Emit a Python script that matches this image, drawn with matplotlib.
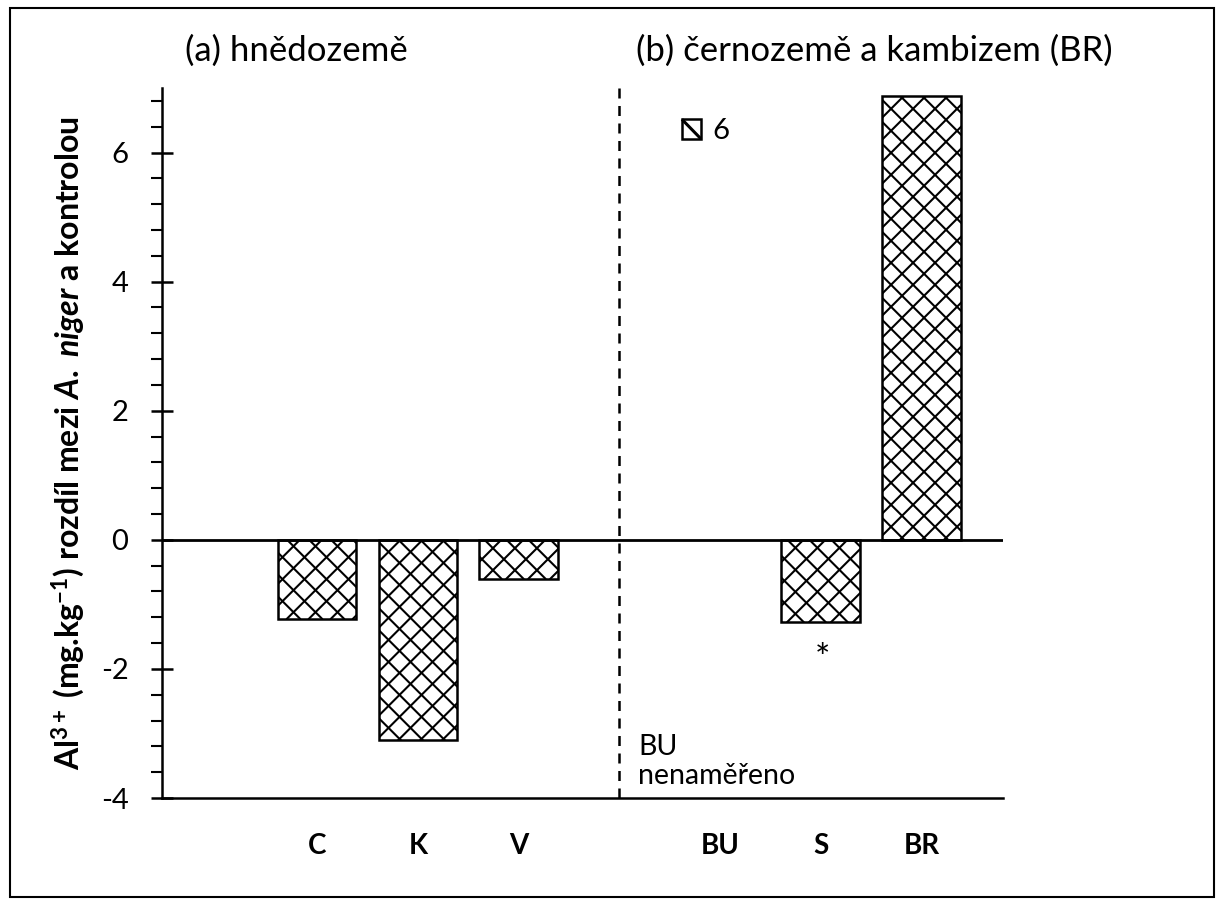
import matplotlib
matplotlib.use("Agg")
import numpy as np
import matplotlib.pyplot as plt
from matplotlib.patches import Patch, Rectangle
from matplotlib.lines import Line2D
from matplotlib.transforms import IdentityTransform, Bbox
from matplotlib.legend_handler import HandlerBase

plt.rcParams['font.family'] = ['Lato', 'DejaVu Sans']
plt.rcParams['mathtext.fontset'] = 'custom'
plt.rcParams['mathtext.rm'] = 'Lato:bold'
plt.rcParams['mathtext.bf'] = 'Lato:bold'
plt.rcParams['mathtext.it'] = 'Lato:bold:italic'

# data
categories = ['C', 'K', 'V', 'BU', 'S', 'BR']
positions = [0, 1, 2, 4, 5, 6]
values = [-1.22, -3.1, -0.6, None, -1.27, 6.88]
divider_x = 3.0
legend_label = '6'


def diamond_hatch(ax, patch, step=22, lw=1.5):
    # 45 degree cross hatch drawn in pixel space, clipped to the bar
    x0, y0, x1, y1 = patch.get_window_extent().extents
    h = y1 - y0
    clip = Bbox.from_extents(x0, y0, x1, y1)
    for c in np.arange(x0 - h - step, x1 + step, step):
        for xs in ([c, c + h], [c + h, c]):
            ln = Line2D(xs, [y0, y1], transform=IdentityTransform(), color='black', lw=lw, zorder=2.5)
            ax.add_artist(ln)
            ln.set_clip_path(None)
            ln.set_clip_box(clip)


class BoxHandler(HandlerBase):
    def create_artists(self, legend, orig_handle, xdescent, ydescent, width, height, fontsize, trans):
        r = Rectangle((-xdescent, -ydescent), width, height, facecolor='white',
                      edgecolor='black', lw=1.8, transform=trans)
        d = Line2D([-xdescent, -xdescent + width], [-ydescent + height, -ydescent],
                   color='black', lw=2.2, solid_capstyle='butt', transform=trans)
        return [r, d]


fig = plt.figure(figsize=(12.24, 9.05), dpi=100)
ax = fig.add_axes([0.1324, 0.1182, 0.687, 0.7846])

bars = []
for p, v in zip(positions, values):
    if v is None:
        continue
    b = ax.bar(p, v, width=0.78, color='white', edgecolor='black', linewidth=1.8, zorder=2)
    bars.append(b[0])

ax.axhline(0, color='black', lw=2, zorder=3)
ax.axvline(divider_x, color='black', lw=1.8, ls=(0, (4, 3)))

ax.set_xlim(-1.54, 6.81)
ax.set_ylim(-4, 7)
ax.set_yticks([-4, -2, 0, 2, 4, 6])
ax.set_yticklabels(['-4', '-2', '0', '2', '4', '6'])
ax.set_yticks([y / 10 for y in range(-36, 70, 4) if y % 20 != 0], minor=True)
ax.tick_params(axis='y', which='major', direction='inout', length=16.5, width=1.8, labelsize=21, pad=16)
ax.tick_params(axis='y', which='minor', direction='out', length=8, width=1.5)
ax.set_xticks(positions)
ax.set_xticklabels(categories, fontweight='bold', fontsize=20)
ax.tick_params(axis='x', length=0, pad=25)

for s in ['top', 'right']:
    ax.spines[s].set_visible(False)
ax.spines['left'].set_linewidth(1.8)
ax.spines['bottom'].set_linewidth(1.8)

ax.set_ylabel(r'Al$^{3+}$ (mg.kg$^{-1}$) rozdíl mezi $\mathit{A.\ niger}$ a kontrolou',
              fontsize=23, fontweight='bold', labelpad=10)

fig.text(0.151, 0.944, '(a) hnědozemě', fontsize=25, va='center')
fig.text(0.52, 0.944, '(b) černozemě a kambizem (BR)', fontsize=25, va='center')

ax.text(divider_x + 0.19, -3.43, 'BU\nnenaměřeno', fontsize=20.5, va='center', linespacing=1.15)
ax.text(5.02, -1.86, '*', fontsize=26, ha='center', va='center')

h = Patch(facecolor='white', edgecolor='black')
ax.legend([h], [legend_label], loc='center left', bbox_to_anchor=(0.587, 0.939),
          frameon=False, fontsize=21, handlelength=0.65, handleheight=0.65, handletextpad=0.4,
          handler_map={Patch: BoxHandler()})

fig.patches.append(Rectangle((0.008, 0.009), 0.984, 0.982, transform=fig.transFigure,
                             fill=False, edgecolor='black', linewidth=1.5))

fig.canvas.draw()
for b in bars:
    diamond_hatch(ax, b)

fig.savefig('out.png', dpi=100)
